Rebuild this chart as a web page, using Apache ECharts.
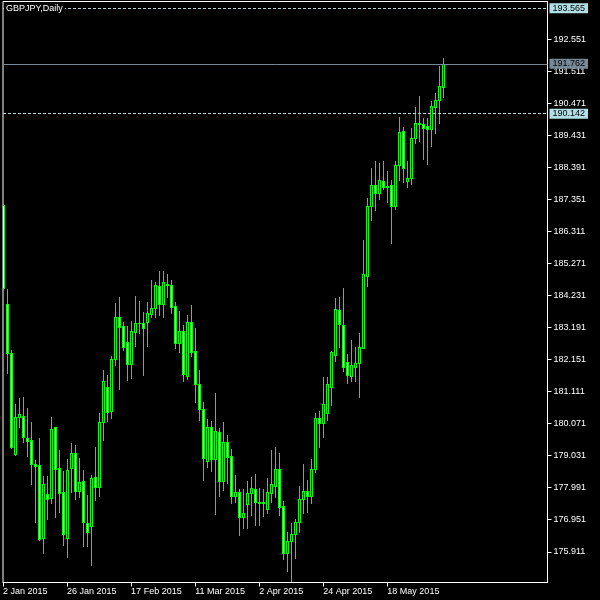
<!DOCTYPE html>
<html>
<head>
<meta charset="utf-8">
<script src="https://cdn.jsdelivr.net/npm/echarts@6/dist/echarts.min.js"></script>
<style>html,body{margin:0;padding:0;background:#000;}#c{width:600px;height:600px;}</style>
</head>
<body>
<div id="c"></div>
<script>
var title = 'GBPJPY,Daily';
var opens = [187.181,183.959,182.365,179.078,180.282,180.314,179.598,179.533,178.752,178.720,
176.344,177.776,177.646,179.956,178.622,177.841,176.344,178.622,179.110,177.873,
178.199,176.832,176.734,178.329,178.004,180.119,181.258,180.477,182.169,183.536,
183.243,182.723,182.007,183.048,183.341,183.341,183.374,183.634,183.829,184.545,
183.959,184.610,184.578,183.894,182.690,183.081,181.616,183.374,182.430,181.356,
180.542,178.850,179.956,178.915,179.794,178.199,179.468,179.012,177.711,177.841,
177.027,177.450,177.808,177.938,177.515,177.483,177.288,177.808,178.036,178.589,
177.385,175.856,176.246,176.474,176.865,177.613,177.873,177.711,178.589,180.249,
180.086,180.412,181.258,182.300,183.764,183.276,182.072,181.616,181.909,182.039,
182.527,184.871,187.149,187.832,187.572,187.962,187.800,187.832,187.149,188.483,
189.590,187.962,188.060,189.362,189.850,189.817,189.752,189.655,190.371,190.598,
191.022];
var closes = [184.480,182.365,179.305,180.282,180.379,179.631,179.501,178.752,178.687,176.311,
178.101,177.613,179.891,178.589,177.808,176.474,178.557,179.110,177.873,178.166,
176.865,176.539,178.296,178.004,180.119,181.453,180.444,182.169,183.536,183.211,
182.560,182.007,183.081,183.341,183.341,183.178,183.666,183.829,184.578,183.959,
184.675,184.578,183.862,182.690,183.081,181.681,183.374,182.397,181.356,180.542,
178.947,179.956,178.915,179.826,178.199,179.468,178.980,177.711,177.841,177.027,
177.157,177.808,177.971,177.515,177.483,177.515,177.841,178.101,178.589,177.353,
175.856,176.246,176.474,176.865,177.613,177.873,177.711,178.589,180.249,180.086,
180.705,181.356,182.397,183.797,183.308,181.909,181.649,181.974,182.039,182.560,
184.936,187.149,187.832,187.572,187.995,187.767,187.767,187.149,188.483,189.557,
188.385,188.060,189.362,189.850,189.817,189.687,189.655,190.403,190.598,191.054,
191.762];
var lows = [184.415,181.714,179.273,179.045,179.956,179.468,179.012,178.101,176.865,176.279,
175.856,176.962,177.483,177.027,177.190,176.116,175.725,177.841,177.613,177.678,
176.083,176.083,175.465,177.580,177.711,179.533,180.152,180.249,181.974,181.193,
182.462,181.486,181.551,182.592,183.016,181.649,182.592,183.536,183.536,183.601,
183.536,184.187,183.666,182.527,182.397,181.453,181.518,182.267,180.770,180.184,
178.231,178.654,178.524,177.125,177.711,177.906,178.134,177.483,177.515,176.441,
176.669,176.669,177.092,176.767,176.767,177.060,177.157,177.515,177.678,177.092,
175.660,175.270,174.950,175.693,176.539,177.157,177.190,177.483,178.492,179.305,
179.631,180.184,180.672,182.104,182.560,181.779,181.388,181.453,181.453,180.933,
182.527,184.545,186.693,187.019,187.377,187.702,187.279,185.945,187.051,187.995,
187.930,187.767,187.865,189.199,189.264,188.678,188.516,189.101,189.525,189.850,
190.696];
var highs = [187.181,184.447,182.462,180.705,180.900,180.933,180.575,180.119,178.882,179.598,
178.362,178.362,180.282,179.956,179.208,178.524,178.915,179.436,179.370,178.947,
178.557,177.743,178.394,179.305,180.412,181.811,181.649,182.267,183.992,184.187,
183.374,183.243,183.406,184.220,184.057,183.699,184.024,184.740,184.675,185.033,
185.033,184.936,184.740,184.024,183.732,183.276,183.601,183.927,183.178,181.811,
180.770,180.217,180.152,181.063,179.924,180.119,179.696,179.240,178.394,177.938,
177.938,178.199,178.329,178.427,177.971,177.938,178.296,179.208,179.305,179.110,
177.548,176.539,176.832,176.962,178.036,178.752,178.231,178.915,180.412,180.477,
181.584,181.584,182.430,184.155,184.187,184.480,182.332,182.788,182.560,183.016,
186.042,187.409,188.385,188.613,188.548,188.613,188.288,187.995,188.613,190.045,
189.720,188.613,189.687,190.371,190.729,190.013,190.013,190.566,190.826,191.705,
191.965];
var yTickValues = [175.911,176.951,177.991,179.031,180.071,181.111,182.151,183.191,184.231,
185.271,186.311,187.351,188.391,189.431,190.471,191.511,192.551];
var xTickLabels = ['2 Jan 2015','26 Jan 2015','17 Feb 2015','11 Mar 2015','2 Apr 2015','24 Apr 2015','18 May 2015'];
var levelLines = [193.565, 190.142];
var bidPrice = 191.762;
var yMin = 174.912, yMax = 193.788;
var totalSlots = 137;

// trading-day calendar (weekdays) starting 2 Jan 2015
var months = ['Jan','Feb','Mar','Apr','May','Jun','Jul','Aug','Sep','Oct','Nov','Dec'];
var dates = [];
var d = new Date(Date.UTC(2015,0,2));
while (dates.length < totalSlots) {
  var wd = d.getUTCDay();
  if (wd !== 0 && wd !== 6) dates.push(d.getUTCDate() + ' ' + months[d.getUTCMonth()] + ' ' + d.getUTCFullYear());
  d = new Date(d.getTime() + 86400000);
}
var cats = dates.map(function (s, i) { return i < opens.length ? s : ''; });
var tickSet = {};
xTickLabels.forEach(function (s) { tickSet[s] = true; });
function showTick(idx, val) { return !!tickSet[val]; }

var candleData = opens.map(function (o, i) { return [i, o, closes[i], lows[i], highs[i]]; });

var LIME = '#00ff00';
function renderCandle(params, api) {
  var i = api.value(0), o = api.value(1), c = api.value(2), l = api.value(3), h = api.value(4);
  var pO = api.coord([i, o]), pC = api.coord([i, c]), pL = api.coord([i, l]), pH = api.coord([i, h]);
  var px = Math.floor(pO[0]);
  var top = Math.round(Math.min(pO[1], pC[1]));
  var bot = Math.round(Math.max(pO[1], pC[1]));
  var hi = Math.round(pH[1]), lo = Math.round(pL[1]);
  var children = [
    {type: 'rect', shape: {x: px, y: hi, width: 1, height: lo - hi + 1}, style: {fill: LIME}},
    {type: 'rect', shape: {x: px - 1, y: top, width: 3, height: bot - top + 1}, style: {fill: LIME}}
  ];
  if (bot - top >= 2) {
    children.push({type: 'rect', shape: {x: px, y: top + 1, width: 1, height: bot - top - 1},
      style: {fill: c < o ? '#ffffff' : '#000000'}});
  }
  return {type: 'group', children: children};
}

var font = 'Liberation Sans';
var chart = echarts.init(document.getElementById('c'), null, {renderer: 'canvas'});
chart.setOption({
  backgroundColor: '#000',
  animation: false,
  title: {
    text: title, left: 4, top: 3, padding: [1, 2],
    backgroundColor: '#000', z: 20,
    textStyle: {color: '#fff', fontSize: 9, fontWeight: 'normal', fontFamily: font}
  },
  grid: {left: 2.5, right: 52.5, top: 1.5, bottom: 17.5, show: true, borderColor: '#fff', borderWidth: 1, backgroundColor: 'transparent'},
  xAxis: {
    type: 'category', data: cats, boundaryGap: false,
    axisLine: {lineStyle: {color: '#fff', width: 1}},
    axisTick: {show: true, interval: showTick, length: 4, lineStyle: {color: '#fff'}},
    axisLabel: {interval: showTick, color: '#fff', fontSize: 9, fontFamily: font, align: 'left', margin: 5},
    splitLine: {show: false}
  },
  yAxis: {
    type: 'value', position: 'right', min: yMin, max: yMax, scale: true,
    axisLine: {show: true, lineStyle: {color: '#fff', width: 1}},
    axisTick: {show: true, length: 4, customValues: yTickValues, lineStyle: {color: '#fff'}},
    axisLabel: {customValues: yTickValues, color: '#fff', fontSize: 9, fontFamily: font, margin: 6,
      formatter: function (v) { return v.toFixed(3); }},
    splitLine: {show: false}
  },
  series: [{
    type: 'line', data: [], z: 1, silent: true,
    markLine: {
      symbol: 'none', silent: true, animation: false, precision: 3,
      data: [
        {yAxis: levelLines[0], lineStyle: {color: '#b0d8e0', type: [3, 2], width: 1},
          label: {backgroundColor: '#b0e0e6', color: '#000'}},
        {yAxis: bidPrice, lineStyle: {color: '#778899', type: 'solid', width: 1},
          label: {backgroundColor: '#778899', color: '#000'}},
        {yAxis: levelLines[1], lineStyle: {color: '#b0d8e0', type: [3, 2], width: 1},
          label: {backgroundColor: '#b0e0e6', color: '#000'}}
      ],
      label: {position: 'end', distance: 2, fontSize: 9, fontFamily: font, padding: [1, 3, 0, 3],
        formatter: function (p) { return Number(p.value).toFixed(3); }}
    }
  }, {
    type: 'custom', z: 3, clip: true,
    data: candleData,
    encode: {x: 0, y: [1, 2, 3, 4]},
    renderItem: renderCandle
  }]
});
</script>
</body>
</html>
